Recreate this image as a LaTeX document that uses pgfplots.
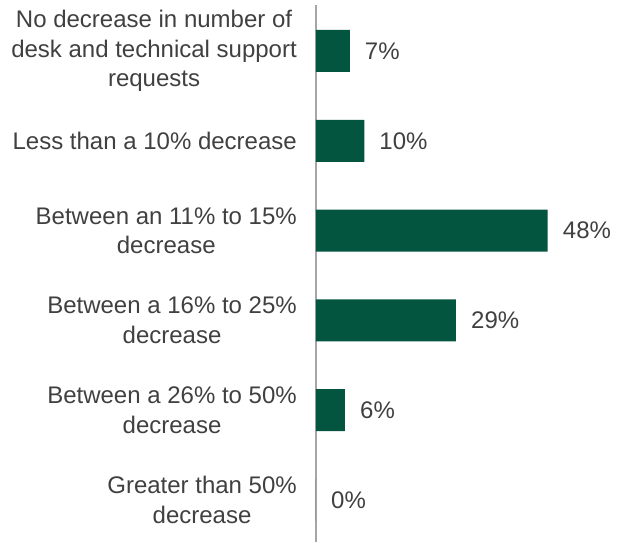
\documentclass[border=0pt]{standalone}
\usepackage{pgfplots}
\pgfplotsset{compat=1.18}
\usepackage{fontspec}
\setmainfont{Liberation Sans}
\definecolor{bargreen}{HTML}{045540}
\definecolor{txtgray}{HTML}{404040}
\definecolor{axgray}{HTML}{A6A6A6}
\begin{document}
\begin{tikzpicture}
\path[use as bounding box] (-316pt,0pt) rectangle (308pt,542pt);
\begin{axis}[
  at={(0pt,0pt)}, anchor=south west,
  scale only axis,
  width=308pt, height=537pt,
  xbar, bar width=42pt,
  xmin=0, xmax=63.8,
  ymin=-0.512, ymax=5.468,
  y dir=reverse,
  axis x line=none,
  axis y line*=left,
  y axis line style={axgray, line width=1.6pt, -},
  ytick={0,1,2,3,4,5},
  yticklabels={{No decrease in number of\\desk and technical support\\requests},
    {Less than a 10\% decrease},
    {Between an 11\% to 15\%\\decrease},
    {Between a 16\% to 25\%\\decrease},
    {Between a 26\% to 50\%\\decrease},
    {Greater than 50\%\\decrease}},
  major tick length=0pt,
  /pgf/number format/assume math mode=true,
  yticklabel style={anchor=east, align=center, inner sep=0pt, xshift=-19pt,
    font=\fontsize{24}{29.5}\selectfont, text=txtgray},
  nodes near coords={\pgfmathprintnumber{\pgfplotspointmeta}\%},
  nodes near coords style={anchor=west, inner sep=0pt, xshift=15pt,
    font=\fontsize{24}{29}\selectfont, text=txtgray},
  clip=false,
]
\addplot[fill=bargreen, draw=none] coordinates {(7,0) (10,1) (48,2) (29,3) (6,4) (0,5)};
\end{axis}
\end{tikzpicture}
\end{document}
